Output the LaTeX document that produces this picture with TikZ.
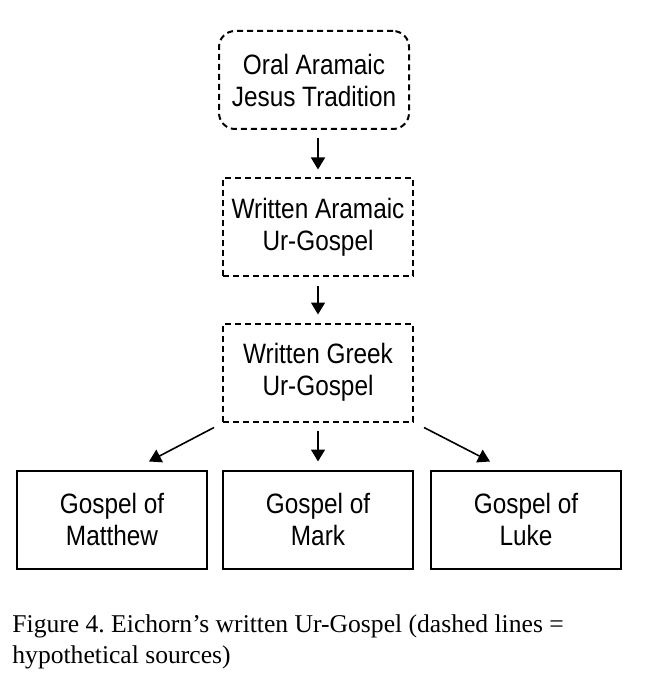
\documentclass[tikz,border=0pt]{standalone}
\usepackage{fontspec}
\setsansfont{Liberation Sans}[FakeStretch=0.87]
\setmainfont{Liberation Serif}
\usetikzlibrary{positioning,calc,arrows.meta}

\begin{document}
\frenchspacing
\begin{tikzpicture}
  [x=0.5pt,y=-0.5pt,
   srcN/.style={draw,line width=1pt,minimum width=95pt,minimum height=49pt,
                align=center,font=\sffamily\fontsize{14}{16}\selectfont},
   hypoN/.style={srcN,dashed,dash pattern=on 3pt off 2pt},
   arr/.style={-{Triangle[length=6pt,width=7pt]},line width=0.8pt},
   node distance=7pt]

  \useasboundingbox (0,0) rectangle (653,689);

  \node[hypoN,rounded corners=8pt] (oral) at (314,80) {Oral Aramaic\\Jesus Tradition};
  \node[hypoN] (wa) at (318,227.5) {Written Aramaic\\Ur-Gospel};
  \node[hypoN] (wg) at (318,372.5) {Written Greek\\Ur-Gospel};

  \node[srcN] (mark) at (318,519.5) {Gospel of\\Mark};
  \node[srcN] (matt) [left=of mark] {Gospel of\\Matthew};
  \node[srcN] (luke) [right=8pt of mark] {Gospel of\\Luke};

  \draw [arr,shorten <=4pt,shorten >=4pt] (oral.south -| wa) -- (wa);
  \draw [arr,shorten <=4pt,shorten >=4pt] (wa) -- (wg);
  \draw [arr,shorten <=4pt,shorten >=4pt] (wg) -- (mark);

  \draw [arr] ($(wg.south west)+(-8,5)$) -- ($(matt.north)+(37,-8)$);
  \draw [arr] ($(wg.south east)+(10,5)$) -- ($(luke.north)+(-36,-8)$);

  % caption
  \node[anchor=north west,align=left,inner sep=0pt,
        font=\rmfamily\fontsize{12.8}{15.5}\selectfont] (cap) at (12,614)
    {Figure 4. Eichorn’s written Ur-Gospel (dashed lines =\\hypothetical sources)};
\end{tikzpicture}
\end{document}
